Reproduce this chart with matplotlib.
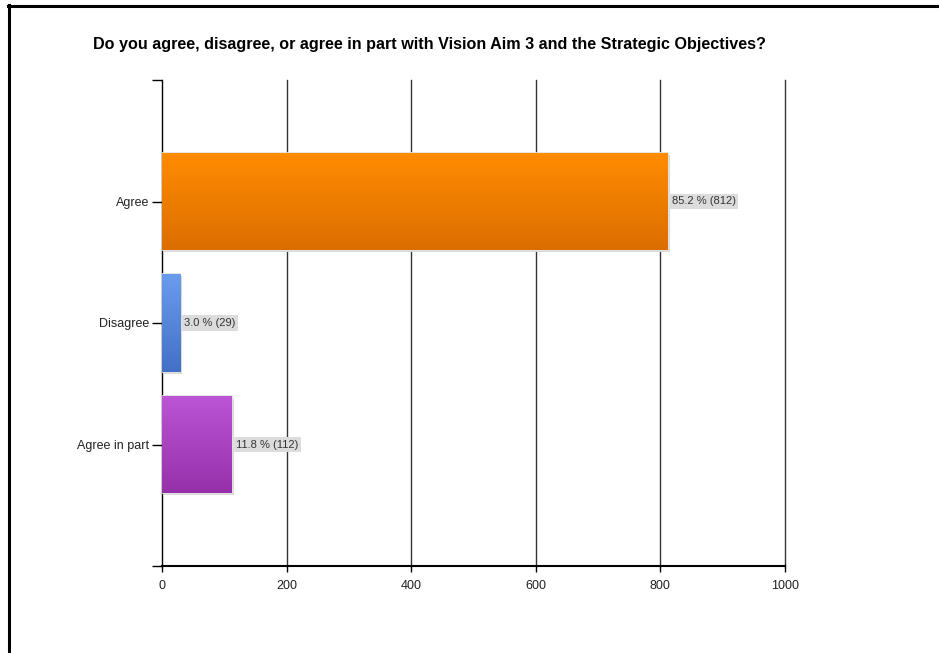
import numpy as np
import matplotlib
matplotlib.use("Agg")
import matplotlib.pyplot as plt
from matplotlib.colors import LinearSegmentedColormap
from matplotlib.lines import Line2D
import matplotlib.patheffects as pe

plt.rcParams['font.family'] = ['Liberation Sans', 'DejaVu Sans']

# survey answers
categories = ["Agree", "Disagree", "Agree in part"]
counts = [812, 29, 112]
percents = [85.2, 3.0, 11.8]
bar_top = ["#ff8c00", "#6a9cee", "#bc55d6"]
bar_bottom = ["#dc6e00", "#4270c6", "#9630aa"]
xticks = [0, 200, 400, 600, 800, 1000]
title = "Do you agree, disagree, or agree in part with Vision Aim 3 and the Strategic Objectives?"

fig = plt.figure(figsize=(9.39, 6.53), dpi=100)
ax = fig.add_axes([162 / 939, 1 - 566 / 653, (785 - 162) / 939, (566 - 80) / 653])

# frame around the chart
fig.add_artist(Line2D([8 / 939, 1], [1 - 5.5 / 653] * 2, color="black", lw=2.2))
fig.add_artist(Line2D([8.5 / 939] * 2, [0, 1 - 5 / 653], color="black", lw=2.2))

ypos = np.arange(len(categories))
h = 0.8
bars = ax.barh(ypos, counts, height=h, color="none", edgecolor="#e2e2e2", lw=1.2, zorder=3,
               path_effects=[pe.SimplePatchShadow(offset=(1.5, -1.5), shadow_rgbFace="#d9d9d9", alpha=1),
                             pe.Normal()])

# vertical colour gradient inside each bar
grad = np.linspace(0, 1, 100).reshape(-1, 1)
for i, b in enumerate(bars):
    cmap = LinearSegmentedColormap.from_list("g%d" % i, [bar_top[i], bar_bottom[i]])
    im = ax.imshow(grad, extent=[0, counts[i], ypos[i] + h / 2, ypos[i] - h / 2],
                   aspect="auto", cmap=cmap, zorder=4, interpolation="bilinear")
    im.set_clip_path(b)
    ax.text(counts[i] + 6, ypos[i], "%.1f %% (%d)" % (percents[i], counts[i]),
            va="center", ha="left", fontsize=8, color="#333333", zorder=5,
            bbox=dict(boxstyle="square,pad=0.25", fc="#dcdcdc", ec="none"))

ax.set_xlim(0, 1000)
ax.set_ylim(3, -1)
ax.set_xticks(xticks)
ax.set_xticklabels([str(t) for t in xticks])
ax.set_yticks([-1, 0, 1, 2, 3])
ax.set_yticklabels(["", "Agree", "Disagree", "Agree in part", ""])
ax.tick_params(axis="y", length=7, width=1, colors="black", labelsize=9, labelcolor="#222222", pad=2)
ax.tick_params(axis="x", length=4, width=1, colors="black", labelsize=9, labelcolor="#222222", pad=6)
ax.xaxis.grid(True, color="#333333", lw=1, zorder=1)
for gl in ax.get_xgridlines():
    gl.set_clip_on(False)
ax.set_axisbelow(True)
for s in ["top", "right"]:
    ax.spines[s].set_visible(False)
ax.spines["left"].set_color("black")
ax.spines["bottom"].set_color("black")
ax.spines["bottom"].set_linewidth(1.5)

fig.text(93 / 939, 1 - 44 / 653, title, fontsize=11.6, fontweight="bold", ha="left", va="center", color="black")

fig.savefig("out.png", dpi=100)
